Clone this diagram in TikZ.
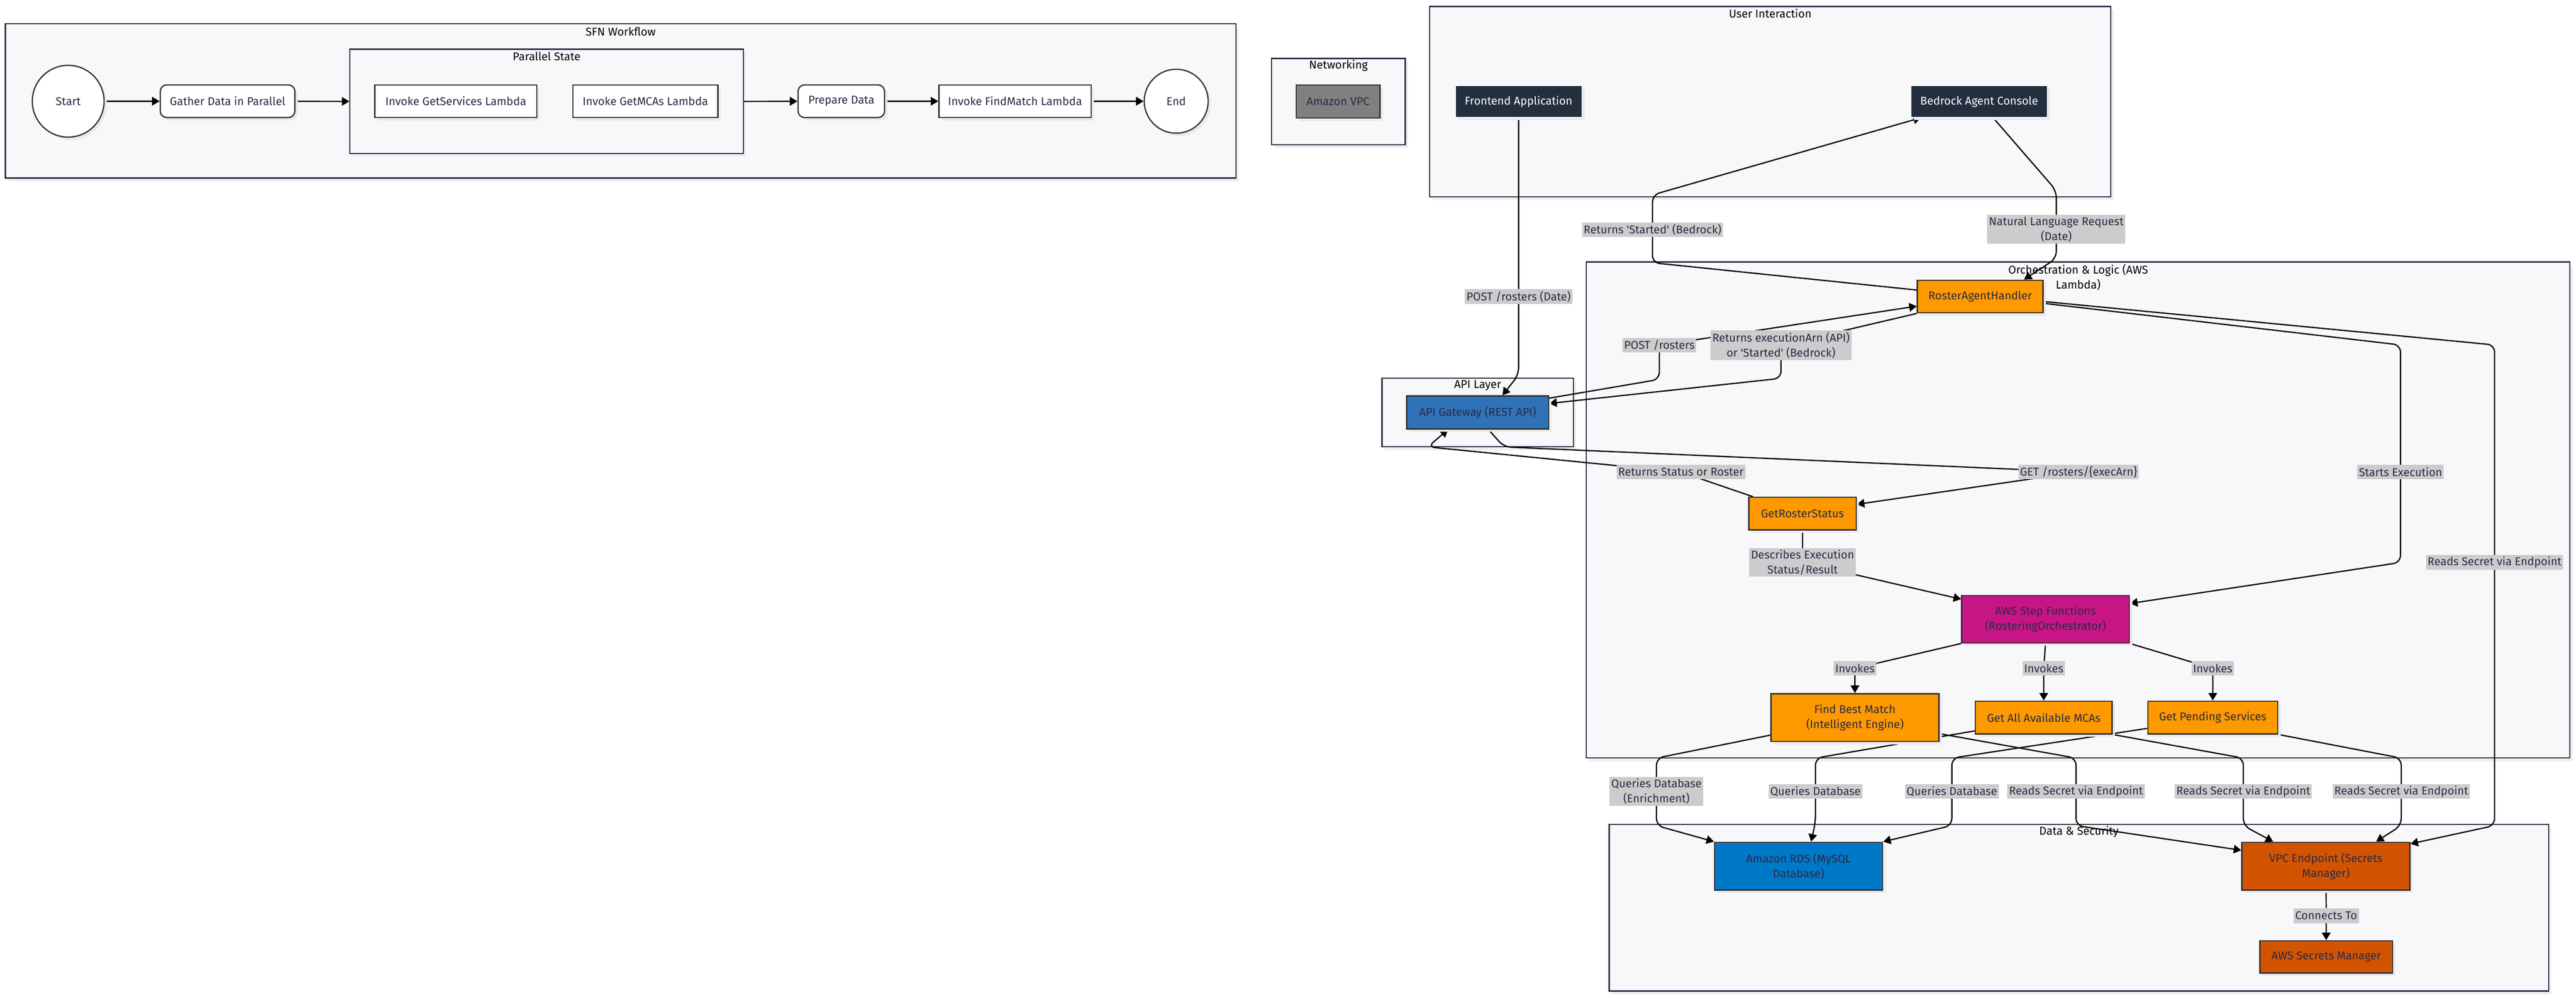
\documentclass[tikz,border=0pt]{standalone}
\usepackage{fontspec}
\setmainfont{Fira Sans}
\usetikzlibrary{arrows.meta,shadows}

\pgfdeclarelayer{bg}
\pgfdeclarelayer{edges}
\pgfsetlayers{bg,edges,main}

\definecolor{clusterfill}{HTML}{F8F8FA}
\definecolor{clusterline}{HTML}{2D2D45}
\definecolor{clshadow}{HTML}{EEEEF0}
\definecolor{ndshadow}{HTML}{EAEAEC}
\definecolor{nodeline}{HTML}{333333}
\definecolor{nodetext}{HTML}{2A2A46}
\definecolor{labelgray}{HTML}{CCCCCC}
\definecolor{navy}{HTML}{232F3E}
\definecolor{vpcgray}{HTML}{808080}
\definecolor{apiblue}{HTML}{2E73B8}
\definecolor{awsorange}{HTML}{FF9900}
\definecolor{sfnmagenta}{HTML}{C71585}
\definecolor{rdsblue}{HTML}{0078C8}
\definecolor{vpceorange}{HTML}{D35400}

\tikzset{
    cluster/.style={rectangle, draw=clusterline, line width=0.9pt, fill=clusterfill, inner sep=0pt,
        general shadow={fill=clshadow, shadow xshift=0.08cm, shadow yshift=-0.09cm}},
    cltitle/.style={text=black, inner sep=0pt, align=center},
    box/.style={rectangle, draw=nodeline, line width=1pt, text=nodetext, align=center, inner sep=2pt,
        minimum height=0.91cm,
        general shadow={fill=ndshadow, shadow xshift=0.08cm, shadow yshift=-0.08cm}},
    state/.style={box, fill=white},
    pill/.style={state, rounded corners=0.18cm},
    term/.style={box, circle, fill=white},
    user/.style={box, fill=navy, draw=white, line width=0.6pt, text=white, minimum height=0.88cm},
    lambda/.style={box, fill=awsorange},
    elabel/.style={fill=labelgray, text=nodetext, inner sep=1.3pt, minimum height=0.41cm, align=center},
    link/.style={->, line width=1pt, rounded corners=0.2cm},
}

\begin{document}
\begin{tikzpicture}[>={Triangle[length=0.21cm,width=0.24cm]}, font=\fontsize{9}{12}\selectfont]
    \useasboundingbox (0,0) rectangle (71.77,-27.80);

    % クラスタ(背景)
    \begin{pgfonlayer}{bg}
    \fill[white] (0,0) rectangle (71.77,-27.80);
    \node[cluster, minimum width=34.28cm, minimum height=4.30cm] (sfnbox) at (17.29,-2.81) {};
    \node[cluster, minimum width=10.96cm, minimum height=2.91cm] (parallel) at (15.23,-2.825) {};
    \node[cluster, minimum width=3.72cm, minimum height=2.40cm] (netbox) at (37.29,-2.83) {};
    \node[cluster, minimum width=18.98cm, minimum height=5.30cm] (userbox) at (49.32,-2.83) {};
    \node[cluster, minimum width=27.40cm, minimum height=13.82cm] (orchbox) at (57.90,-14.21) {};
    \node[cluster, minimum width=5.33cm, minimum height=1.92cm] (apibox) at (41.17,-11.49) {};
    \node[cluster, minimum width=26.17cm, minimum height=4.64cm] (databox) at (57.92,-25.29) {};

    \node[cltitle, yshift=-0.24cm] (tSfn) at (sfnbox.north) {SFN Workflow};
    \node[cltitle, yshift=-0.21cm] (tParallel) at (parallel.north) {Parallel State};
    \node[cltitle, yshift=-0.21cm] (tNet) at (netbox.north) {Networking};
    \node[cltitle, yshift=-0.21cm] (tUser) at (userbox.north) {User Interaction};
    \node[cltitle, yshift=-0.44cm] (tOrch) at (orchbox.north) {Orchestration \& Logic (AWS\\Lambda)};
    \node[cltitle, yshift=-0.23cm] (tApi) at (apibox.north) {API Layer};
    \node[cltitle, yshift=-0.22cm] (tData) at (databox.north) {Data \& Security};
    \end{pgfonlayer}

    % SFNワークフローのノード
    \node[term, minimum size=2.00cm] (Start) at (1.90,-2.82) {Start};
    \node[pill, minimum width=3.75cm] (Gather) at (6.34,-2.82) {Gather Data in Parallel};
    \node[state, minimum width=4.51cm] (GetSvc) at (12.70,-2.82) {Invoke GetServices Lambda};
    \node[state, minimum width=4.04cm] (GetMCAs) at (17.98,-2.82) {Invoke GetMCAs Lambda};
    \node[pill, minimum width=2.41cm] (Prep) at (23.44,-2.82) {Prepare Data};
    \node[state, minimum width=4.24cm] (FindMatch) at (28.28,-2.82) {Invoke FindMatch Lambda};
    \node[term, minimum size=1.78cm] (End) at (32.77,-2.82) {End};

    % ネットワーク・ユーザー
    \node[box, fill=vpcgray, minimum width=2.33cm, minimum height=0.92cm] (VPC) at (37.28,-2.83) {Amazon VPC};
    \node[user, minimum width=3.52cm] (Frontend) at (42.31,-2.83) {Frontend Application};
    \node[user, minimum width=3.79cm] (Bedrock) at (55.14,-2.83) {Bedrock Agent Console};

    % API・Lambda・データ層
    \node[box, fill=apiblue, minimum width=3.95cm, minimum height=0.92cm] (ApiGw) at (41.17,-11.49) {API Gateway (REST API)};
    \node[lambda, minimum width=3.50cm] (Roster) at (55.17,-8.26) {RosterAgentHandler};
    \node[lambda, minimum width=2.99cm] (GetStatus) at (50.22,-14.31) {GetRosterStatus};
    \node[box, fill=sfnmagenta, minimum width=4.67cm, minimum height=1.32cm] (StepFn) at (56.99,-17.25) {AWS Step Functions\\(RosteringOrchestrator)};
    \node[lambda, minimum width=4.68cm, minimum height=1.33cm] (FindBest) at (51.68,-19.99) {Find Best Match\\(Intelligent Engine)};
    \node[lambda, minimum width=3.81cm] (GetAll) at (56.94,-19.99) {Get All Available MCAs};
    \node[lambda, minimum width=3.62cm] (Pending) at (61.65,-19.99) {Get Pending Services};
    \node[box, fill=rdsblue, minimum width=4.68cm, minimum height=1.33cm] (RDS) at (50.11,-24.13) {Amazon RDS (MySQL\\Database)};
    \node[box, fill=vpceorange, minimum width=4.68cm, minimum height=1.33cm] (VPCE) at (64.80,-24.13) {VPC Endpoint (Secrets\\Manager)};
    \node[box, fill=vpceorange, minimum width=3.70cm, minimum height=0.90cm] (Secrets) at (64.81,-26.66) {AWS Secrets Manager};

    % 接続線のラベル
    \node[elabel] (lPostDate) at (42.31,-8.26) {POST /rosters (Date)};
    \node[elabel] (lStarted) at (46.04,-6.40) {Returns \textquotesingle Started\textquotesingle{} (Bedrock)};
    \node[elabel] (lNatural) at (57.29,-6.39) {Natural Language Request\\(Date)};
    \node[elabel] (lPost) at (46.23,-9.62) {POST /rosters};
    \node[elabel] (lArn) at (49.62,-9.62) {Returns executionArn (API)\\or \textquotesingle Started\textquotesingle{} (Bedrock)};
    \node[elabel] (lStatus) at (46.83,-13.15) {Returns Status or Roster};
    \node[elabel] (lGet) at (57.91,-13.15) {GET /rosters/\{execArn\}};
    \node[elabel] (lStarts) at (66.88,-13.15) {Starts Execution};
    \node[elabel] (lDescribes) at (50.22,-15.67) {Describes Execution\\Status/Result};
    \node[elabel] (lReadsR) at (69.50,-15.67) {Reads Secret via Endpoint};
    \node[elabel] (lInv1) at (51.68,-18.62) {Invokes};
    \node[elabel] (lInv2) at (56.94,-18.62) {Invokes};
    \node[elabel] (lInv3) at (61.65,-18.62) {Invokes};
    \node[elabel] (lEnrich) at (46.15,-22.05) {Queries Database\\(Enrichment)};
    \node[elabel] (lQ1) at (50.58,-22.05) {Queries Database};
    \node[elabel] (lQ2) at (54.38,-22.05) {Queries Database};
    \node[elabel] (lR1) at (57.84,-22.05) {Reads Secret via Endpoint};
    \node[elabel] (lR2) at (62.50,-22.05) {Reads Secret via Endpoint};
    \node[elabel] (lR3) at (66.90,-22.05) {Reads Secret via Endpoint};
    \node[elabel] (lConnects) at (64.81,-25.51) {Connects To};

    % 接続線
    \begin{pgfonlayer}{edges}
    \draw[link] (Start) -- (Gather);
    \draw[link] (Gather) -- (parallel.west);
    \draw[link] (parallel.east) -- (Prep);
    \draw[link] (Prep) -- (FindMatch);
    \draw[link] (FindMatch) -- (End);

    \draw[link] (Frontend.south) -- (lPostDate.center) -- (42.31,-10.44) -- ([xshift=0.69cm]ApiGw.north);
    \draw[link] ([xshift=0.39cm]Bedrock.south) -- (57.29,-5.31) -- (lNatural.center) -- (57.29,-7.20) -- ([xshift=1.22cm]Roster.north);
    \draw[link] ([yshift=0.18cm]Roster.west) -- (46.04,-7.32) -- (lStarted.center) -- (46.04,-5.43) -- ([xshift=-1.62cm]Bedrock.south);
    \draw[link] ([yshift=-0.08cm]ApiGw.north east) -- (46.23,-10.57) -- (lPost.center) -- ([yshift=-0.27cm]Roster.west);
    \draw[link] (Roster.south west) -- (lArn.center) -- (49.62,-10.54) -- ([yshift=0.25cm]ApiGw.east);
    \draw[link] ([xshift=0.30cm]ApiGw.south) -- (41.90,-12.45) -- (lGet.center) -- ([yshift=0.26cm]GetStatus.east);
    \draw[link] ([xshift=0.13cm]GetStatus.north west) -- (lStatus.center) -- (39.78,-12.45) -- ([xshift=-0.83cm]ApiGw.south);
    \draw[link] (GetStatus.south) -- (lDescribes.center) -- ([yshift=-0.12cm]StepFn.north west);
    \draw[link] ([yshift=-0.19cm]Roster.east) -- (66.88,-9.61) -- (lStarts.center) -- (66.88,-15.67) -- ([yshift=-0.24cm]StepFn.north east);
    \draw[link] ([yshift=-0.14cm]Roster.east) -- (69.50,-9.61) -- (lReadsR.center) -- (69.50,-23.00) -- ([yshift=-0.06cm]VPCE.north east);

    \draw[link] (StepFn.south west) -- (lInv1.center) -- (FindBest.north);
    \draw[link] (StepFn.south) -- (lInv2.center) -- (GetAll.north);
    \draw[link] (StepFn.south east) -- (lInv3.center) -- (Pending.north);

    \draw[link] ([yshift=-0.49cm]FindBest.west) -- (46.15,-21.12) -- (lEnrich.center) -- (46.15,-23.00) -- (RDS.north west);
    \draw[link] ([yshift=0.10cm]GetAll.south west) -- (50.58,-21.12) -- (lQ1.center) -- (50.58,-22.90) -- ([xshift=0.35cm]RDS.north);
    \draw[link] ([yshift=0.17cm]Pending.south west) -- (54.38,-21.12) -- (lQ2.center) -- (54.38,-23.00) -- (RDS.north east);
    \draw[link] ([yshift=-0.45cm]FindBest.east) -- (57.84,-21.12) -- (lR1.center) -- (57.84,-23.00) -- ([yshift=-0.24cm]VPCE.north west);
    \draw[link] (GetAll.south east) -- (62.50,-21.12) -- (lR2.center) -- (62.50,-23.00) -- ([xshift=-1.47cm]VPCE.north);
    \draw[link] (Pending.south east) -- (66.90,-21.12) -- (lR3.center) -- (66.90,-23.00) -- ([xshift=1.40cm]VPCE.north);
    \draw[link] (VPCE) -- (lConnects) -- (Secrets);
    \end{pgfonlayer}
\end{tikzpicture}
\end{document}
